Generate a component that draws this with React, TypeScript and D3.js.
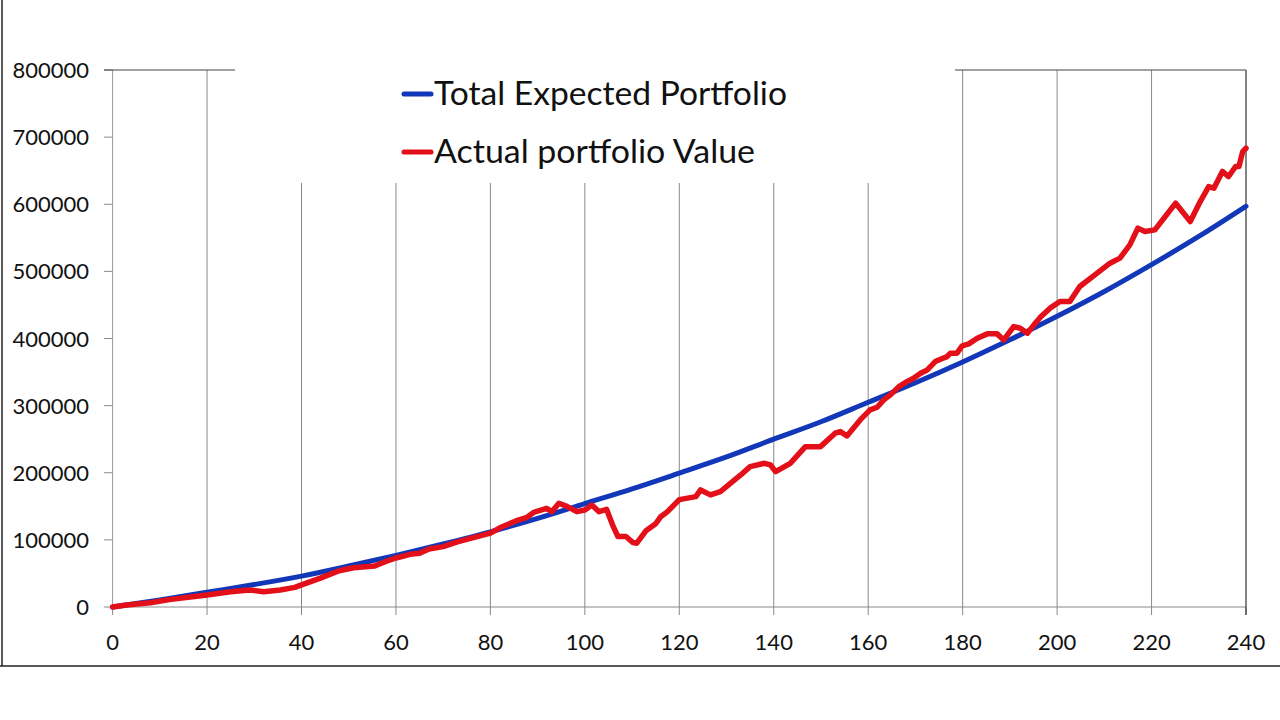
import React from "react";
import * as d3 from "d3";

// Month index ticks
const xTicks = [0, 20, 40, 60, 80, 100, 120, 140, 160, 180, 200, 220, 240];
const yTicks = [0, 100000, 200000, 300000, 400000, 500000, 600000, 700000, 800000];

// Total Expected Portfolio (every 10 months)
const expectedMonths = [0, 10, 20, 30, 40, 50, 60, 70, 80, 90, 100, 110, 120, 130, 140, 150, 160, 170, 180, 190, 200, 210, 220, 230, 240];
const expectedValues = [0, 10500, 22000, 33500, 46000, 61000, 77000, 94000, 112000, 132000, 154000, 176000, 199500, 223500, 250000, 276000, 305000, 334000, 365000, 398000, 433000, 470000, 510000, 552000, 597000];

// Actual portfolio Value
const actualMonths = [0, 3, 8, 12, 16, 20, 25, 29, 32, 35.5, 38.6, 40, 44, 48, 51, 55.5, 57.7, 60, 63, 65, 67, 70, 73, 77, 80, 82, 85.5, 87.6, 89.3, 91.9, 93, 94.5, 96.2, 98.3, 100, 101.5, 103, 104.6, 106, 107, 108.7, 110.2, 111, 113, 115, 116, 117.5, 120, 123.5, 124.5, 126.6, 128.7, 133, 135, 138, 139.3, 140.4, 143.5, 146.7, 149.9, 153, 154.1, 155.5, 158.3, 160.4, 161.9, 163.3, 164.7, 166.5, 168.2, 169.6, 171.1, 172.5, 174.2, 175.3, 176.7, 177.4, 178.8, 179.9, 181.3, 183.1, 185.2, 187.3, 188.7, 190.8, 192.2, 193.7, 195.1, 196.5, 198.5, 200.6, 202.7, 204.8, 208, 211.2, 213.3, 215.4, 217.1, 218.6, 220.7, 222.9, 225.1, 228.2, 230.3, 232.1, 233.2, 235, 236.3, 237.8, 238.5, 239.3, 240];
const actualValues = [0, 3000, 6400, 11000, 14500, 17900, 22800, 25300, 22800, 25300, 29300, 33000, 43000, 54000, 58500, 61000, 67500, 73000, 78500, 80000, 86500, 90000, 97000, 104500, 110000, 118000, 128500, 133000, 141500, 147000, 142000, 154500, 150000, 142000, 144500, 152000, 142000, 145600, 120000, 105000, 105000, 96000, 95000, 114000, 124000, 134000, 142000, 160000, 164400, 174400, 167000, 172000, 196700, 209100, 214100, 211600, 201600, 214100, 238900, 238900, 258900, 261300, 254800, 278700, 293600, 297600, 308500, 316000, 328300, 335800, 340800, 348300, 353200, 365600, 369100, 373000, 378100, 378100, 389000, 392000, 400400, 406900, 406900, 397900, 417700, 415300, 407900, 420300, 432000, 445200, 455000, 455000, 477400, 494800, 512200, 519700, 539500, 564400, 559300, 561800, 581700, 601600, 574200, 604000, 626400, 624000, 648800, 641300, 656200, 656200, 678500, 683500];

const seriesNames = ["Total Expected Portfolio", "Actual portfolio Value"];
const BLUE = "#1237b8";
const RED = "#e3101a";
const FONT = "Lato, 'Open Sans', sans-serif";

export default function App() {
  const x = d3.scaleLinear().domain([0, 240]).range([112.6, 1246]);
  const y = d3.scaleLinear().domain([0, 800000]).range([607, 70]);

  const expected = expectedMonths.map((m, i) => [m, expectedValues[i]] as [number, number]);
  const actual = actualMonths.map((m, i) => [m, actualValues[i]] as [number, number]);

  const blueLine = d3.line<[number, number]>().x(d => x(d[0])).y(d => y(d[1])).curve(d3.curveMonotoneX);
  const redLine = d3.line<[number, number]>().x(d => x(d[0])).y(d => y(d[1])).curve(d3.curveLinear);

  const x0 = x(0), x1 = x(240), yTop = y(800000), yBot = y(0);

  return (
    <svg width={1280} height={720} style={{ position: "absolute", left: 0, top: 0, background: "#fff" }}>
      <rect x={0} y={0} width={1280} height={720} fill="#fff" />
      {/* outer chart border */}
      <line x1={2} y1={0} x2={2} y2={666} stroke="#222" strokeWidth={1.5} />
      <line x1={0} y1={666} x2={1280} y2={666} stroke="#222" strokeWidth={1.5} />

      {/* vertical gridlines */}
      {xTicks.filter(t => t > 0 && t < 240).map(t => (
        <line key={"g" + t} x1={x(t)} x2={x(t)} y1={yTop} y2={yBot} stroke="#8a8a8a" strokeWidth={1} />
      ))}
      {/* value axis */}
      <line x1={x0} x2={x0} y1={yTop} y2={yBot} stroke="#9a9a9a" strokeWidth={1} />
      {yTicks.map(t => (
        <line key={"yt" + t} x1={104} x2={x0} y1={y(t)} y2={y(t)} stroke="#8a8a8a" strokeWidth={1} />
      ))}
      {/* category axis */}
      <line x1={x0} x2={x1} y1={yBot} y2={yBot} stroke="#8a8a8a" strokeWidth={1} />
      {xTicks.map(t => (
        <line key={"xt" + t} x1={x(t)} x2={x(t)} y1={yBot} y2={yBot + 8} stroke="#8a8a8a" strokeWidth={1} />
      ))}
      {/* plot top / right borders */}
      <line x1={104} x2={x1} y1={yTop} y2={yTop} stroke="#444" strokeWidth={1.2} />
      <line x1={x1} x2={x1} y1={yTop} y2={yBot + 8} stroke="#333" strokeWidth={1.2} />

      {/* legend box */}
      <rect x={235} y={58} width={720} height={125} fill="#fff" />
      <line x1={404} x2={431} y1={94} y2={94} stroke={BLUE} strokeWidth={5} strokeLinecap="round" />
      <text x={434} y={105} fontFamily={FONT} fontSize={32} textLength={353} lengthAdjust="spacingAndGlyphs" fill="#111">{seriesNames[0]}</text>
      <line x1={404} x2={431} y1={152} y2={152} stroke={RED} strokeWidth={5} strokeLinecap="round" />
      <text x={434} y={163} fontFamily={FONT} fontSize={32} textLength={321} lengthAdjust="spacingAndGlyphs" fill="#111">{seriesNames[1]}</text>

      {/* series */}
      <path d={blueLine(expected) || ""} fill="none" stroke={BLUE} strokeWidth={5} strokeLinejoin="round" strokeLinecap="round" />
      <path d={redLine(actual) || ""} fill="none" stroke={RED} strokeWidth={5.5} strokeLinejoin="round" strokeLinecap="round" />

      {/* tick labels */}
      {yTicks.map(t => (
        <text key={"yl" + t} x={89} y={y(t) + 8} textAnchor="end" fontFamily={FONT} fontSize={22} fill="#111">{t}</text>
      ))}
      {xTicks.map(t => (
        <text key={"xl" + t} x={x(t)} y={650} textAnchor="middle" fontFamily={FONT} fontSize={22} fill="#111">{t}</text>
      ))}
    </svg>
  );
}
